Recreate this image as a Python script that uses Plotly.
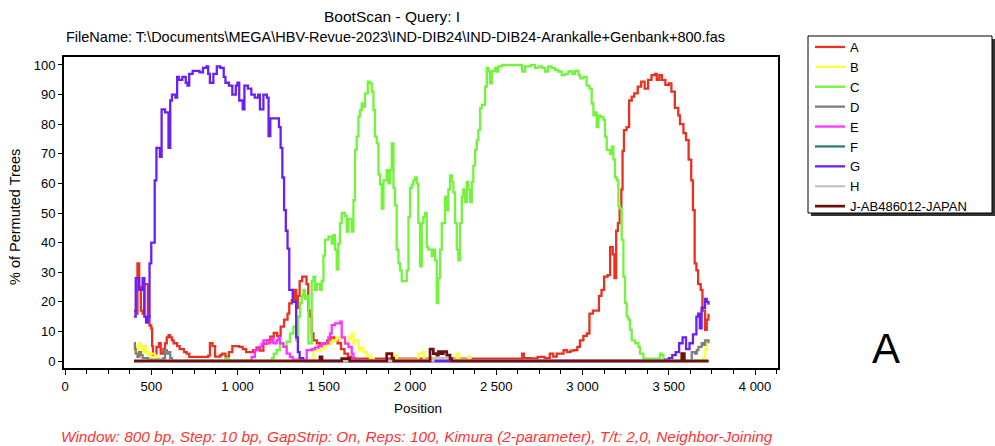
import plotly.graph_objects as go

# ---------------- data (position bp, % of permuted trees) ----------------
series_names = ["A", "B", "C", "D", "E", "F", "G", "H", "J-AB486012-JAPAN"]

A = [(400,17),(410,16),(420,33),(430,25),(440,17),(450,16),(460,26),(470,26),(480,15),(490,12),
     (500,11),(505,5),(510,2),(520,2.5),(530,4.8),(545,6),(555,2.5),(570,4),(580,6),(590,8),(600,8.7),
     (610,8),(620,7),(630,6),(650,5),(665,4),(690,3),(705,2.5),(720,1.4),(800,1.4),(830,1.8),(840,6),
     (855,5),(870,1.5),(900,2),(910,2.5),(930,1.4),(950,3),(970,5),(990,5),(1010,4.8),(1030,4),(1050,3),
     (1070,3),(1090,3.7),(1110,4.5),(1130,3.5),(1150,5.9),(1170,7),(1190,8.2),(1210,9.5),(1230,8.5),
     (1250,11.6),(1270,14),(1290,16),(1300,19.5),(1315,20.6),(1330,24),(1340,18),(1350,22),(1360,27),
     (1375,28.5),(1390,28.5),(1400,26),(1410,17),(1420,15),(1430,9.3),(1440,7),(1460,6),(1480,5),
     (1500,6),(1520,7),(1540,8),(1560,7),(1580,6),(1600,4),(1620,2.5),(1640,1.5),(1660,1),(1680,0.8),
     (2640,0.8),(2650,2.5),(2660,1),(2700,0.9),(2740,1.4),(2780,1),(2810,2.5),(2830,1.5),(2850,2.5),
     (2870,2.5),(2890,3.7),(2910,3),(2930,3.5),(2950,3.7),(2970,4.8),(2985,7),(3005,8.5),(3025,9.3),
     (3040,16),(3060,17),(3080,17),(3095,22),(3110,24),(3125,28.5),(3145,29),(3160,38.5),(3175,36),
     (3185,28),(3195,44),(3205,46.6),(3215,52),(3225,58),(3232,71),(3240,78),(3255,79),(3270,88),
     (3285,89.3),(3300,90.4),(3320,92.7),(3340,94.4),(3360,92),(3380,95),(3400,96.6),(3420,97),
     (3430,95),(3445,96.6),(3460,95),(3480,93.3),(3500,93.8),(3515,91),(3535,85.5),(3555,83),(3565,80),
     (3585,77),(3600,74.6),(3615,68),(3630,61),(3640,51),(3650,33),(3660,30.6),(3670,26),(3685,24),
     (3695,17),(3710,10.5),(3720,14),(3730,16)]

B = [(400,3),(410,5),(420,3),(430,6),(440,5),(450,3),(460,5),(470,3),(480,2),(490,1),(500,2.5),(520,1.5),
     (540,0),(1430,0),(1440,3.7),(1460,3.5),(1480,4),(1500,5),(1517,5.5),(1540,6.5),(1556,7),(1575,8),
     (1594,7.5),(1604,8),(1623,6),(1643,8),(1662,9.3),(1672,6),(1681,7),(1701,3.7),(1715,4.5),(1730,3),
     (1749,1.9),(1768,1),(1790,0),(1900,0),(1913,1.9),(1925,0.5),(2040,0.5),(2048,2.5),(2068,3),
     (2080,0.5),(2260,0.5),(2271,2.5),(2285,0.5),(2330,0.5),(2338,1.5),(2350,0),(3690,0),(3700,1),
     (3710,3.7),(3720,7),(3730,6)]

C = [(400,0),(920,0),(930,1),(950,0),(1190,0),(1200,1),(1210,2.5),(1227,3.7),(1246,5.9),(1266,5),
     (1285,6.5),(1304,9.3),(1324,11.6),(1340,7),(1350,15),(1362,19.6),(1372,22),(1382,24),(1391,21),
     (1400,22),(1411,6),(1420,6),(1430,27),(1440,28.5),(1450,24),(1460,26),(1478,24),(1488,27),
     (1498,35.6),(1507,41),(1527,42),(1546,39.7),(1556,42.5),(1565,37.6),(1575,31),(1585,39.7),
     (1594,46.6),(1604,50),(1623,49),(1633,43.7),(1643,48),(1662,43.7),(1672,54.3),(1681,71.3),
     (1691,75.8),(1701,82.6),(1710,84.8),(1720,87),(1730,85.9),(1739,90.4),(1755,94.4),(1768,93.8),
     (1778,91),(1788,84.8),(1797,75.8),(1807,73.5),(1817,63),(1826,59.7),(1836,51.5),(1846,61),
     (1855,61),(1865,64.5),(1875,60),(1884,64.5),(1894,73.5),(1904,58.5),(1913,52.6),(1923,37.6),
     (1933,33),(1942,30.6),(1952,27),(1971,27),(1981,30.6),(1991,48.7),(2000,58.5),(2010,59.6),
     (2019,61),(2029,62),(2039,60),(2048,46.6),(2058,32),(2068,46.6),(2077,48.7),(2087,50),(2097,38.5),
     (2106,37.6),(2126,35.4),(2135,37.6),(2145,34),(2155,19.6),(2164,28),(2174,37.6),(2184,46.6),
     (2203,55.5),(2213,51),(2222,58),(2232,62.7),(2242,60.5),(2251,57),(2261,46.6),(2271,37.6),
     (2280,34),(2290,46.6),(2300,55.5),(2309,58),(2319,53.7),(2329,60.5),(2338,58),(2348,53.7),
     (2358,60.5),(2367,66),(2377,71.3),(2387,74.6),(2396,78),(2406,85.4),(2416,86.5),(2435,92.7),
     (2445,99),(2454,97.8),(2464,93.8),(2474,98),(2493,99),(2503,97.8),(2512,99.5),(2532,100),
     (2640,100),(2650,97.8),(2667,99.5),(2700,100),(2725,99),(2745,99.5),(2765,99),(2783,97.8),
     (2800,99.5),(2820,99),(2841,98.3),(2860,97.8),(2879,96.6),(2900,97),(2918,97.8),(2940,97),
     (2957,98),(2977,96.6),(2986,95.5),(3005,96),(3024,93),(3040,92),(3053,87),(3063,83),(3072,84),
     (3082,79),(3092,83),(3101,82.5),(3121,81.5),(3130,75.8),(3140,71.3),(3159,70),(3169,72.4),
     (3179,68),(3188,62),(3198,61),(3208,52.4),(3217,51.5),(3227,41),(3237,28.5),(3246,19.6),(3256,15),
     (3266,14),(3275,10.5),(3285,7),(3305,6),(3324,4.8),(3333,2.5),(3353,0.8),(3440,0.5),(3449,2.5),
     (3460,2),(3469,0.5),(3480,0),(3730,0)]

D = [(400,6),(405,4),(410,2.5),(420,1.4),(430,3),(440,2),(450,1),(480,0.5),(570,1),(580,3.7),(590,2.5),
     (600,3),(610,1),(620,0),(3620,0),(3633,3),(3652,2.5),(3662,3.7),(3672,4.8),(3691,6),(3700,5.5),
     (3710,7),(3720,7),(3730,6)]

E = [(400,0),(1060,0),(1082,1.4),(1101,3.7),(1121,4.8),(1140,5.9),(1150,7),(1169,6),(1188,6.5),(1198,7.6),
     (1208,6),(1227,7),(1237,8),(1246,6),(1266,4.8),(1285,2.5),(1304,1.4),(1320,0.5),(1380,0.5),
     (1401,3.7),(1430,4),(1449,4.5),(1469,5),(1488,5.9),(1517,6),(1527,8),(1536,9.3),(1546,12.1),
     (1565,12.7),(1594,13.3),(1604,8),(1623,5.9),(1643,4.8),(1662,2.5),(1672,0.5),(1690,0),(3730,0)]

F = [(400,0),(3730,0)]

G = [(400,15),(410,28),(430,24),(450,28),(460,15),(470,13),(480,15),(490,33),(500,40),(520,61),(530,72),
     (550,69),(560,85),(580,84),(600,72),(610,88),(620,90),(640,89),(650,96),(660,95),(680,96),(700,94),
     (710,93),(720,97),(740,98),(760,98),(780,97.5),(800,99),(820,99.5),(830,97),(840,94),(860,97),
     (880,99.5),(900,99),(920,96),(930,94),(950,93),(970,90),(990,93),(1000,94),(1010,88),(1030,85),
     (1040,93),(1060,92),(1080,90),(1100,89),(1120,90),(1130,85),(1150,90),(1170,89),(1180,76),(1190,82),
     (1220,82),(1240,79),(1250,72),(1260,62),(1270,51),(1280,44),(1290,38),(1300,24),(1320,20),(1330,20),
     (1340,8),(1350,3),(1360,1),(1380,0),(3460,0),(3480,0.5),(3500,1),(3520,2),(3540,3),(3560,6),
     (3580,8),(3600,4),(3620,6),(3640,9),(3660,15),(3670,16),(3680,11),(3690,18),(3700,18),(3710,21),
     (3720,20),(3730,19)]

H = [(400,0),(2120,0),(2135,1),(2230,1),(2245,0),(3730,0)]

J = [(400,0),(1470,0),(1478,1.4),(1490,0),(1600,0),(1604,0.8),(1640,0.8),(1650,0),(1860,0),(1865,2.5),
     (1884,2.5),(1895,1),(1905,0),(2100,0),(2116,4),(2135,2.5),(2155,2),(2164,3.2),(2180,2.5),(2193,3.2),
     (2213,2),(2232,0.8),(2242,0),(3560,0),(3575,2.5),(3590,0),(3730,0)]

x_tick_values = [0, 500, 1000, 1500, 2000, 2500, 3000, 3500, 4000]
x_tick_labels = ["0", "500", "1 000", "1 500", "2 000", "2 500", "3 000", "3 500", "4 000"]
y_tick_values = [0, 10, 20, 30, 40, 50, 60, 70, 80, 90, 100]

title_1 = "BootScan - Query: I"
title_2 = "FileName: T:\\Documents\\MEGA\\HBV-Revue-2023\\IND-DIB24\\IND-DIB24-Arankalle+Genbank+800.fas"
footer = "Window: 800 bp, Step: 10 bp, GapStrip: On, Reps: 100, Kimura (2-parameter), T/t: 2,0, Neighbor-Joining"

# ---------------- styling ----------------
colors = ["#E8321F", "#FFFF3A", "#72F43C", "#7F7F7F", "#FF33FF", "#2F7C72", "#6A1FF8", "#C4C4C4", "#6E0F0A"]
widths = [2.3, 2.3, 2.3, 2.3, 2.3, 2.3, 2.3, 2.3, 2.7]
FONT = "Liberation Sans, Arial, sans-serif"

fig = go.Figure()
for name, data, col, w in zip(series_names, [A, B, C, D, E, F, G, H, J], colors, widths):
    xs = [p[0] for p in data]
    ys = [p[1] for p in data]
    fig.add_trace(go.Scatter(x=xs, y=ys, mode="lines", name=name,
                             line=dict(color=col, width=w, shape="hv")))

L, R, T, Bm = 64, 778, 57, 368
W = R - L
Hh = Bm - T
def px(x):
    return (x - L) / W
def py(y):
    return (Bm - y) / Hh

fig.update_layout(
    width=995, height=446,
    margin=dict(l=L, r=995 - R, t=T, b=446 - Bm, pad=0),
    paper_bgcolor="white", plot_bgcolor="white",
    font=dict(family=FONT, size=13, color="black"),
    showlegend=True,
    legend=dict(x=px(810), y=py(32), xanchor="left", yanchor="top",
                bgcolor="rgba(0,0,0,0)", borderwidth=0,
                font=dict(family=FONT, size=13, color="black"),
                tracegroupgap=0),
)

fig.update_xaxes(range=[-5.8, 4133], tickmode="array", tickvals=x_tick_values, ticktext=x_tick_labels,
                 ticks="outside", ticklen=5, tickwidth=1, tickcolor="black",
                 minor=dict(dtick=125, ticks="outside", ticklen=4, tickcolor="black", tickwidth=1),
                 showline=True, linecolor="black", linewidth=2, mirror=True,
                 showgrid=False, zeroline=False, tickfont=dict(size=13))
fig.update_yaxes(range=[-2.36, 102.7], tickmode="array", tickvals=y_tick_values,
                 ticks="outside", ticklen=4, tickwidth=1, tickcolor="black",
                 showline=True, linecolor="black", linewidth=2, mirror=True,
                 showgrid=False, zeroline=False, tickfont=dict(size=13))

# legend frame with shadow
fig.add_shape(type="rect", xref="paper", yref="paper", x0=px(811), x1=px(995), y0=py(216), y1=py(39),
              fillcolor="#333333", line=dict(width=0), layer="above")
fig.add_shape(type="rect", xref="paper", yref="paper", x0=px(808), x1=px(992), y0=py(213), y1=py(36),
              fillcolor="white", line=dict(color="black", width=1), layer="above")

ann = [
    dict(text=title_1, x=px(392), y=py(17), size=15.5, color="black", italic=False),
    dict(text=title_2, x=px(395), y=py(37), size=14.5, color="black", italic=False),
    dict(text="Position", x=px(418), y=py(408), size=13.5, color="black", italic=False),
    dict(text=footer, x=px(417), y=py(436), size=15.4, color="#FF3333", italic=True),
    dict(text="A", x=px(886), y=py(348), size=42, color="black", italic=False),
]
for a in ann:
    t = "<i>" + a["text"] + "</i>" if a["italic"] else a["text"]
    fig.add_annotation(text=t, x=a["x"], y=a["y"], xref="paper", yref="paper",
                       xanchor="center", yanchor="middle", showarrow=False,
                       font=dict(family=FONT, size=a["size"], color=a["color"]))
fig.add_annotation(text="% of Permuted Trees", x=px(15), y=py(217), xref="paper", yref="paper",
                   xanchor="center", yanchor="middle", showarrow=False, textangle=-90,
                   font=dict(family=FONT, size=14.5, color="black"))

fig.write_html("out.html", config={"displayModeBar": False},
               post_script="document.body.style.margin='0px';")
